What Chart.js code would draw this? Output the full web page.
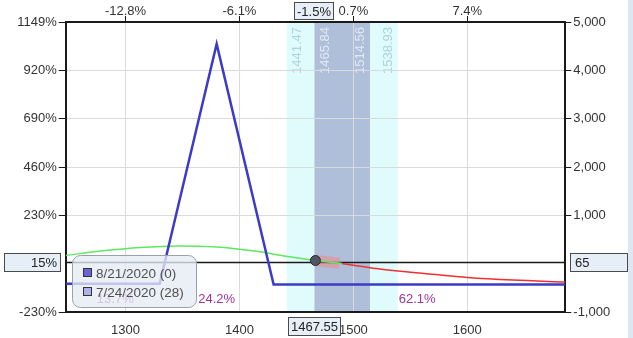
<!DOCTYPE html>
<html>
<head>
<meta charset="utf-8">
<script src="https://cdn.jsdelivr.net/npm/chart.js@4.4.1/dist/chart.umd.min.js"></script>
<style>
  html, body { margin: 0; padding: 0; background: #dde7f4; }
  #wrap { width: 628px; height: 338px; background: #fff; }
</style>
</head>
<body>
<div id="wrap"><canvas id="riskChart" width="628" height="338"></canvas></div>
<script>
// expiration line (8/21/2020)
const expiryPrices = [1247.5, 1330, 1380, 1430, 1686];
const expiryPnl = [-415, -415, 4545, -430, -430];

// T+0 line (7/24/2020)
const todayPrices = [1247.5, 1280, 1313, 1345, 1380, 1413, 1445, 1467.55, 1490, 1520, 1560, 1600, 1640, 1686];
const todayPnl = [170, 265, 335, 368, 345, 260, 140, 65, 5, -100, -200, -285, -340, -380];

const seriesNames = ['8/21/2020 (0)', '7/24/2020 (28)'];

const priceTicks = [1300, 1400, 1500, 1600];
const moveLabels = ['-12.8%', '-6.1%', '0.7%', '7.4%'];
const pnlTicks = [-1000, 1000, 2000, 3000, 4000, 5000];
const returnLabels = ['-230%', '230%', '460%', '690%', '920%', '1149%'];

const outerBand = [1441.47, 1538.93];
const innerBand = [1465.84, 1514.56];

const currentPrice = 1467.55;
const currentPnl = 65;
const currentReturn = '15%';
const currentMove = '-1.5%';

const probCenters = [1291, 1380, 1556];
const probLabels = ['13.7%', '24.2%', '62.1%'];

const FONT = '"Liberation Sans", Arial, sans-serif';
const axisFont = { family: FONT, size: 13 };

function fixTicks(values) {
    return function(scale) {
        scale.ticks = values.map(v => ({ value: v }));
    };
}

function drawBox(c, text, left, top, w, h, align) {
    c.save();
    c.fillStyle = '#e6eef8';
    c.strokeStyle = '#4a4a4a';
    c.lineWidth = 1;
    c.fillRect(left, top, w, h);
    c.strokeRect(left + 0.5, top + 0.5, w - 1, h - 1);
    c.fillStyle = '#222';
    c.font = '13px ' + FONT;
    c.textBaseline = 'middle';
    c.textAlign = align;
    let tx = align === 'right' ? left + w - 4 : align === 'left' ? left + 5 : left + w / 2;
    c.fillText(text, tx, top + h / 2 + 1);
    c.restore();
}

const overlays = {
    id: 'overlays',
    beforeDraw(chart) {
        const c = chart.ctx, a = chart.chartArea, xs = chart.scales.x;
        c.save();
        const ox0 = xs.getPixelForValue(outerBand[0]), ox1 = xs.getPixelForValue(outerBand[1]);
        const ix0 = xs.getPixelForValue(innerBand[0]), ix1 = xs.getPixelForValue(innerBand[1]);
        c.fillStyle = '#e0fbfc';
        c.fillRect(ox0, a.top, ox1 - ox0, a.bottom - a.top);
        c.fillStyle = '#afbfda';
        c.fillRect(ix0, a.top, ix1 - ix0, a.bottom - a.top);

        // band edge labels, rotated
        c.font = '13px ' + FONT;
        const labs = [
            [outerBand[0], 'top', 4, '#a9d3de'],
            [innerBand[0], 'top', 4, '#e2e9f4'],
            [innerBand[1], 'bottom', -3, '#e2e9f4'],
            [outerBand[1], 'bottom', -3, '#a9d3de']
        ];
        labs.forEach(([v, base, off, col]) => {
            c.save();
            c.translate(xs.getPixelForValue(v) + off, a.top + 5);
            c.rotate(-Math.PI / 2);
            c.textAlign = 'right';
            c.textBaseline = base;
            c.fillStyle = col;
            c.fillText(v.toFixed(2), 0, 0);
            c.restore();
        });
        c.restore();
    },
    beforeDatasetsDraw(chart) {
        const c = chart.ctx, a = chart.chartArea;
        const py = Math.round(chart.scales.y.getPixelForValue(currentPnl)) + 1.5;
        c.save();
        c.strokeStyle = '#1a1a1a';
        c.lineWidth = 1.3;
        c.beginPath();
        c.moveTo(a.left, py);
        c.lineTo(a.right, py);
        c.stroke();
        c.restore();
    },
    afterDraw(chart) {
        const c = chart.ctx, a = chart.chartArea, xs = chart.scales.x, ys = chart.scales.y;
        const px = xs.getPixelForValue(currentPrice);
        const py = ys.getPixelForValue(currentPnl);

        // current position marker
        c.save();
        c.beginPath();
        c.arc(px - 1, py, 5, 0, Math.PI * 2);
        c.fillStyle = '#4f5664';
        c.fill();
        c.lineWidth = 1;
        c.strokeStyle = '#2a2a2a';
        c.stroke();
        c.restore();

        // probability labels
        c.save();
        c.font = '13px ' + FONT;
        c.fillStyle = '#a0339c';
        c.textAlign = 'center';
        c.textBaseline = 'middle';
        probCenters.forEach((v, i) => {
            c.fillText(probLabels[i], xs.getPixelForValue(v), a.bottom - 13);
        });
        c.restore();

        // legend
        c.save();
        const lx = 72, ly = 255, lw = 124, lh = 52;
        c.beginPath();
        c.roundRect(lx + 0.5, ly + 0.5, lw, lh, 8);
        c.fillStyle = 'rgba(230, 235, 243, 0.78)';
        c.fill();
        c.strokeStyle = '#9aa1ab';
        c.lineWidth = 1;
        c.stroke();
        const markers = ['#6666d6', '#aab3ea'];
        c.font = '13.5px ' + FONT;
        c.textBaseline = 'middle';
        c.textAlign = 'left';
        seriesNames.forEach((name, i) => {
            const ry = ly + 18 + i * 19;
            c.fillStyle = markers[i];
            c.fillRect(lx + 11, ry - 5, 9, 9);
            c.strokeStyle = '#333';
            c.strokeRect(lx + 11.5, ry - 4.5, 8, 8);
            c.fillStyle = '#505050';
            c.fillText(name, lx + 24, ry + 1);
        });
        c.restore();

        // value boxes on the axes
        const by = Math.round(py) - 8;
        drawBox(c, currentReturn, 4, by, 57, 19, 'right');
        drawBox(c, String(currentPnl), 570, by, 58, 19, 'left');
        drawBox(c, currentPrice.toFixed(2), Math.round(px) - 28, 317, 53, 19, 'center');
        drawBox(c, currentMove, Math.round(px) - 22, 2, 40, 18, 'center');
    }
};

const ctx = document.getElementById('riskChart').getContext('2d');

new Chart(ctx, {
    type: 'line',
    data: {
        datasets: [{
            label: seriesNames[0],
            data: expiryPrices.map((p, i) => ({ x: p, y: expiryPnl[i] })),
            borderColor: '#3b3bc8',
            borderWidth: 2.5,
            pointRadius: 0,
            tension: 0,
            order: 1
        }, {
            label: seriesNames[1],
            data: todayPrices.map((p, i) => ({ x: p, y: todayPnl[i] })),
            borderWidth: 1.5,
            pointRadius: 0,
            cubicInterpolationMode: 'monotone',
            segment: {
                borderColor: c => c.p1.parsed.y < 0 ? '#ee3030' : '#5ee85e'
            },
            order: 2
        }, {
            label: 'highlight',
            data: [{ x: currentPrice, y: currentPnl }, { x: 1488, y: 10 }],
            borderColor: 'rgba(250, 130, 130, 0.5)',
            borderWidth: 11,
            pointRadius: 0,
            order: 3
        }]
    },
    options: {
        responsive: false,
        animation: false,
        events: [],
        layout: { padding: 0 },
        plugins: {
            legend: { display: false },
            tooltip: { enabled: false }
        },
        scales: {
            x: {
                type: 'linear',
                position: 'bottom',
                min: 1247.5,
                max: 1686,
                afterBuildTicks: fixTicks(priceTicks),
                afterFit: s => { s.height = 26; },
                ticks: { callback: v => String(v), font: axisFont, color: '#333', padding: 11, maxRotation: 0 },
                grid: { color: '#dadada', drawTicks: false },
                border: { color: '#1a1a1a', width: 2 }
            },
            xTop: {
                type: 'linear',
                position: 'top',
                min: 1247.5,
                max: 1686,
                afterBuildTicks: fixTicks(priceTicks),
                afterFit: s => { s.height = 22; },
                ticks: { callback: v => moveLabels[priceTicks.indexOf(v)], font: axisFont, color: '#333', padding: -3, maxRotation: 0 },
                grid: { drawOnChartArea: false, tickColor: '#1a1a1a', tickLength: 6 },
                border: { color: '#1a1a1a', width: 2 }
            },
            y: {
                position: 'right',
                min: -1000,
                max: 5000,
                afterBuildTicks: fixTicks(pnlTicks),
                afterFit: s => { s.width = 62.7; },
                ticks: { callback: v => v.toLocaleString('en-US'), font: axisFont, color: '#333', padding: 2 },
                grid: { color: '#dadada', tickColor: '#1a1a1a', tickLength: 6 },
                border: { color: '#1a1a1a', width: 2 }
            },
            yLeft: {
                position: 'left',
                min: -1000,
                max: 5000,
                afterBuildTicks: fixTicks(pnlTicks),
                afterFit: s => { s.width = 65.7; },
                ticks: { callback: v => returnLabels[pnlTicks.indexOf(v)], font: axisFont, color: '#333', padding: 2 },
                grid: { drawOnChartArea: false, tickColor: '#1a1a1a', tickLength: 7 },
                border: { color: '#1a1a1a', width: 2 }
            }
        }
    },
    plugins: [overlays]
});
</script>
</body>
</html>
